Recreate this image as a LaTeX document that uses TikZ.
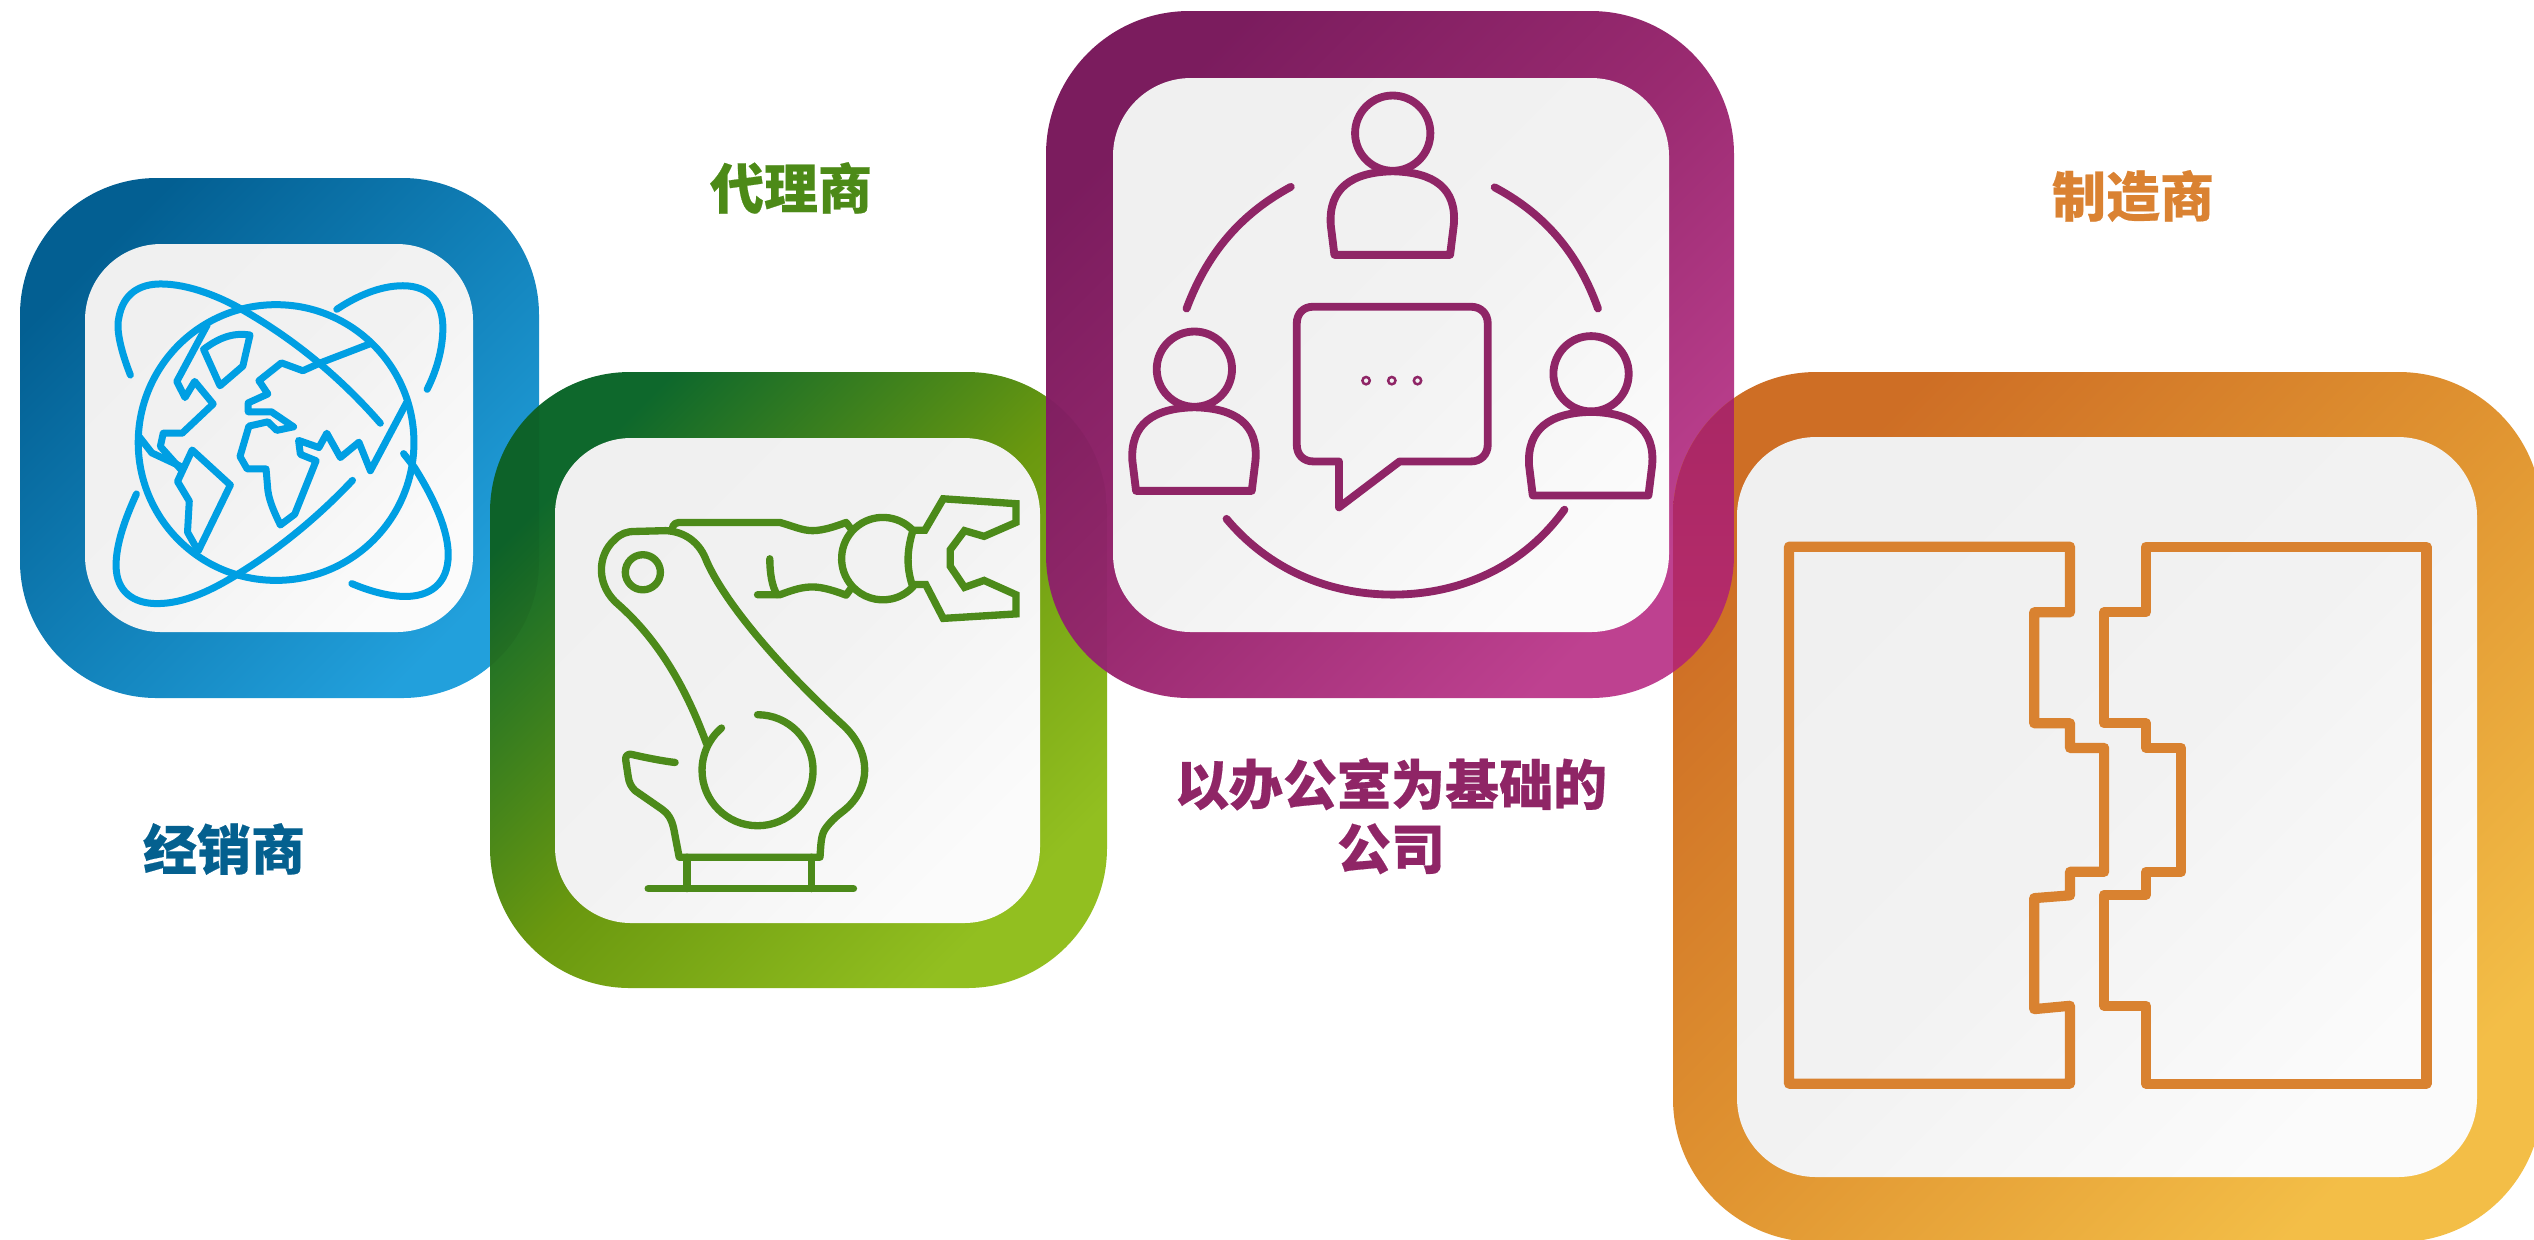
\documentclass[tikz,border=0pt]{standalone}
\usepackage{fontspec}
\newfontfamily\cjkfont{Noto Sans CJK SC}[BoldFeatures={FakeBold=0.35}]
\definecolor{blueline}{HTML}{009FE3}
\definecolor{greenline}{HTML}{4C8A1A}
\definecolor{magline}{HTML}{8F2566}
\definecolor{orgline}{HTML}{D98230}
\definecolor{bluetext}{HTML}{04608F}
\definecolor{greentext}{HTML}{4C8A17}
\definecolor{orgtext}{HTML}{DA8232}
\definecolor{panelA}{HTML}{F0F0F0}
\definecolor{panelM}{HTML}{F2F2F2}
\definecolor{panelB}{HTML}{FBFBFB}
\definecolor{blueA}{HTML}{035F92}
\definecolor{blueM}{HTML}{1180B8}
\definecolor{blueB}{HTML}{22A0DC}
\definecolor{greenA}{HTML}{0E682C}
\definecolor{greenM}{HTML}{6A980F}
\definecolor{greenB}{HTML}{92BF20}
\definecolor{magA}{HTML}{7B1C5E}
\definecolor{magM}{HTML}{992A70}
\definecolor{magB}{HTML}{BE4190}
\definecolor{orgA}{HTML}{CE6E25}
\definecolor{orgM}{HTML}{E09431}
\definecolor{orgB}{HTML}{F3BE47}
\definecolor{lensA}{HTML}{A82764}
\definecolor{lensB}{HTML}{B82C6C}
\newcommand{\boxblue}{[rounded corners=41pt] (20,178) rectangle (539,698)}
\newcommand{\boxgreen}{[rounded corners=42pt] (490,372) rectangle (1107,988)}
\newcommand{\boxmag}{[rounded corners=43pt] (1046,11) rectangle (1734,698)}
\newcommand{\boxorg}{[rounded corners=43pt] (1673,372) rectangle (2542,1242)}
\newcommand{\innerbox}[5]{\path[innerpanel,rounded corners=#5] (#1,#2) rectangle (#3,#4);}
\newcommand{\personicon}[2]{%
\begin{scope}[shift={(#1,#2)}]
\draw[magstroke] (790,290) circle [radius=82];
\draw[magstroke] (663,555) -- (655,490) .. controls (650,410) and (700,375) .. (790,373) .. controls (880,375) and (930,410) .. (923,490) -- (915,555) -- cycle;
\end{scope}}
\tikzset{
  innerpanel/.style={shade,shading=axis,top color=panelA,bottom color=panelB,middle color=panelM,shading angle=45},
  bluebox/.style={shade,shading=axis,top color=blueA,bottom color=blueB,middle color=blueM,shading angle=45},
  greenbox/.style={shade,shading=axis,top color=greenA,bottom color=greenB,middle color=greenM,shading angle=45},
  magbox/.style={shade,shading=axis,top color=magA,bottom color=magB,middle color=magM,shading angle=45},
  orgbox/.style={shade,shading=axis,top color=orgA,bottom color=orgB,middle color=orgM,shading angle=45},
  bluestroke/.style={draw=blueline,line width=2.1pt,line cap=round,line join=round},
  greenstroke/.style={draw=greenline,line width=2.2pt,line cap=round,line join=round},
  magstroke/.style={draw=magline,line width=2.35pt,line cap=round,line join=round},
  orgstroke/.style={draw=orgline,line width=3.05pt,line cap=round,line join=round},
  caption/.style={font=\cjkfont\bfseries\fontsize{16.2pt}{19.2pt}\selectfont,align=center,inner sep=0pt},
}
\begin{document}
\begin{tikzpicture}[x=0.3pt,y=-0.3pt]
\useasboundingbox (0,0) rectangle (2534,1239);
\clip (0,0) rectangle (2534,1239);
\fill[white] (0,0) rectangle (2534,1239);
% blue
\path[bluebox] \boxblue;
\innerbox{85}{244}{473}{632}{22.8pt}
\begin{scope}[shift={(0,160)},x=0.10714pt,y=-0.10714pt]
\draw[bluestroke] (773,791) circle [radius=386];
\draw[bluestroke] (365,602) .. controls (335,525) and (325,470) .. (333,440) .. controls (345,375) and (390,347) .. (450,347) .. controls (530,347) and (620,385) .. (680,420) .. controls (820,500) and (950,605) .. (1065,737);
\draw[bluestroke] (1130,822) -- (1160,860) .. controls (1220,955) and (1255,1040) .. (1255,1105) .. controls (1255,1190) and (1200,1222) .. (1135,1222) .. controls (1085,1222) and (1030,1205) .. (985,1186);
\draw[bluestroke] (382,935) .. controls (350,1005) and (325,1075) .. (325,1135) .. controls (325,1210) and (375,1242) .. (440,1242) .. controls (520,1242) and (600,1200) .. (665,1160) .. controls (780,1090) and (890,1000) .. (987,897);
\draw[bluestroke] (943,418) .. controls (1000,380) and (1065,352) .. (1128,352) .. controls (1205,352) and (1240,400) .. (1240,470) .. controls (1240,530) and (1222,590) .. (1196,642);
\draw[bluestroke] (580,462) -- (495,620) -- (518,665) -- (545,620) -- (597,683) -- (510,765) -- (457,765) -- (449,802) -- (508,868);
\draw[bluestroke] (390,775) -- (425,820) -- (500,855) -- (508,860);
\draw[bluestroke] (538,812) -- (645,910) -- (555,1095) -- (525,1042) -- (530,955) -- (497,900) -- cycle;
\draw[bluestroke] (570,530) -- (616,632) -- (680,577) -- (700,490) .. controls (650,482) and (610,500) .. cycle;
\draw[bluestroke] (1035,515) -- (897,568) -- (848,590) -- (788,568) -- (725,618) -- (750,655) -- (695,680) -- (695,705) -- (760,705) -- (822,747) -- (775,757) -- (750,733) -- (697,745) -- (672,830) -- (692,865) -- (745,865) -- (750,925) .. controls (755,960) and (770,990) .. (785,1022) -- (825,992) -- (885,842) -- (841,824) -- (836,785) -- (893,805) -- (915,765) -- (953,833) -- (1005,790) -- (1037,870) -- (1138,680);
\end{scope}
% green
\path[greenbox] \boxgreen;
\begin{scope}
\clip \boxblue;
\clip \boxgreen;
\fill[black,opacity=0.05] (20,178) rectangle (1107,988);
\end{scope}
\innerbox{555}{438}{1040}{923}{22.8pt}
\begin{scope}[shift={(480,360)},x=0.12245pt,y=-0.12245pt]
\draw[greenstroke] (472,408) .. controls (475,402) and (480,398) .. (487,398) -- (735,398) .. controls (770,408) and (790,418) .. (815,418) .. controls (840,418) and (870,408) .. (897,398) -- (910,415);
\draw[greenstroke] (680,575) -- (735,575) .. controls (770,562) and (790,556) .. (815,556) .. controls (840,556) and (870,566) .. (897,576) -- (910,558);
\draw[greenstroke] (710,487) .. controls (710,520) and (715,555) .. (728,575);
\draw[greenstroke] (1062,419) arc [start angle=-42,end angle=-318,radius=101];
\draw[greenstroke] (1060,420) .. controls (1045,470) and (1045,510) .. (1060,555);
\draw[greenstroke,line join=miter,line cap=butt] (1060,417) -- (1090,417) -- (1135,340) -- (1313,352) -- (1313,398) -- (1235,432) -- (1187,418) -- (1152,465) -- (1152,505) -- (1187,557) -- (1235,540) -- (1313,575) -- (1313,622) -- (1135,633) -- (1092,550) -- (1060,550);
\draw[greenstroke] (399,520) circle [radius=43];
\draw[greenstroke] (555,940) .. controls (500,790) and (430,680) .. (340,600) .. controls (285,555) and (285,480) .. (330,440) .. controls (345,425) and (360,420) .. (380,420) -- (455,418) .. controls (500,420) and (535,445) .. (552,485) .. controls (590,580) and (720,740) .. (890,895) .. controls (960,960) and (960,1050) .. (890,1105) .. controls (870,1120) and (855,1135) .. (845,1150) .. controls (835,1165) and (835,1190) .. (833,1218) -- (488,1218) -- (475,1150) .. controls (470,1125) and (460,1110) .. (445,1100) -- (380,1055) .. controls (370,1045) and (365,1035) .. (363,1020) -- (357,980) .. controls (355,968) and (365,963) .. (375,967) .. controls (400,973) and (450,983) .. (478,986);
\draw[greenstroke] (680,869) arc [start angle=-90,end angle=229.5,radius=136];
\draw[greenstroke] (507,1218) -- (507,1295);
\draw[greenstroke] (812,1218) -- (812,1295);
\draw[greenstroke] (412,1295) -- (915,1295);
\end{scope}
% magenta
\path[magbox] \boxmag;
\begin{scope}
\clip \boxgreen;
\clip \boxmag;
\fill[black,opacity=0.04] (1046,11) rectangle (1107,988);
\end{scope}
\innerbox{1113}{78}{1669}{632}{23.4pt}
\begin{scope}[shift={(1030,0)},x=0.13774pt,y=-0.13774pt]
\personicon{0}{0}
\personicon{-432}{514}
\personicon{432}{524}
\draw[magstroke] (617,668) -- (960,668) .. controls (982,668) and (997,683) .. (997,705) -- (997,968) .. controls (997,990) and (982,1005) .. (960,1005) -- (805,1005) -- (673,1105) -- (673,1005) -- (617,1005) .. controls (595,1005) and (581,990) .. (581,968) -- (581,705) .. controls (581,683) and (595,668) .. (617,668) -- cycle;
\draw[magline,line width=0.75pt] (732,829) circle [radius=8];
\draw[magline,line width=0.75pt] (788,829) circle [radius=8];
\draw[magline,line width=0.75pt] (844,829) circle [radius=8];
\draw[magstroke] (341,672) .. controls (390,540) and (470,460) .. (568,407);
\draw[magstroke] (1012,408) .. controls (1110,460) and (1190,540) .. (1237,672);
\draw[magstroke] (428,1130) .. controls (520,1240) and (650,1295) .. (790,1295) .. controls (930,1295) and (1070,1240) .. (1164,1110);
\end{scope}
% orange
\path[orgbox] \boxorg;
\begin{scope}
\clip \boxmag;
\clip \boxorg;
\shade[top color=lensA,bottom color=lensB] (1673,372) rectangle (1734,698);
\end{scope}
\innerbox{1737}{437}{2477}{1177}{23.7pt}
\begin{scope}[shift={(1670,360)},x=0.16529pt,y=-0.16816pt]
\draw[orgstroke] (216,333) -- (726,333) -- (726,450) -- (661,450) -- (661,648) -- (726,648) -- (726,692) -- (788,692) -- (788,913) -- (726,913) -- (726,955) -- (661,960) -- (661,1158) -- (726,1152) -- (726,1291) -- (216,1291) -- cycle;
\draw[orgstroke] (864,333) -- (1373,333) -- (1373,1291) -- (864,1291) -- (864,1152) -- (788,1152) -- (788,954) -- (864,954) -- (864,913) -- (928,913) -- (928,692) -- (864,692) -- (864,648) -- (788,648) -- (788,450) -- (864,450) -- cycle;
\end{scope}
% captions
\node[caption,text=bluetext] (dealer) at (224,849) {经销商};
\node[caption,text=greentext] (agent) at (791,188) {代理商};
\node[caption,text=magline] (office) at (1391,816) {以办公室为基础的\\公司};
\node[caption,text=orgtext] (maker) at (2133,196) {制造商};
\end{tikzpicture}
\end{document}
